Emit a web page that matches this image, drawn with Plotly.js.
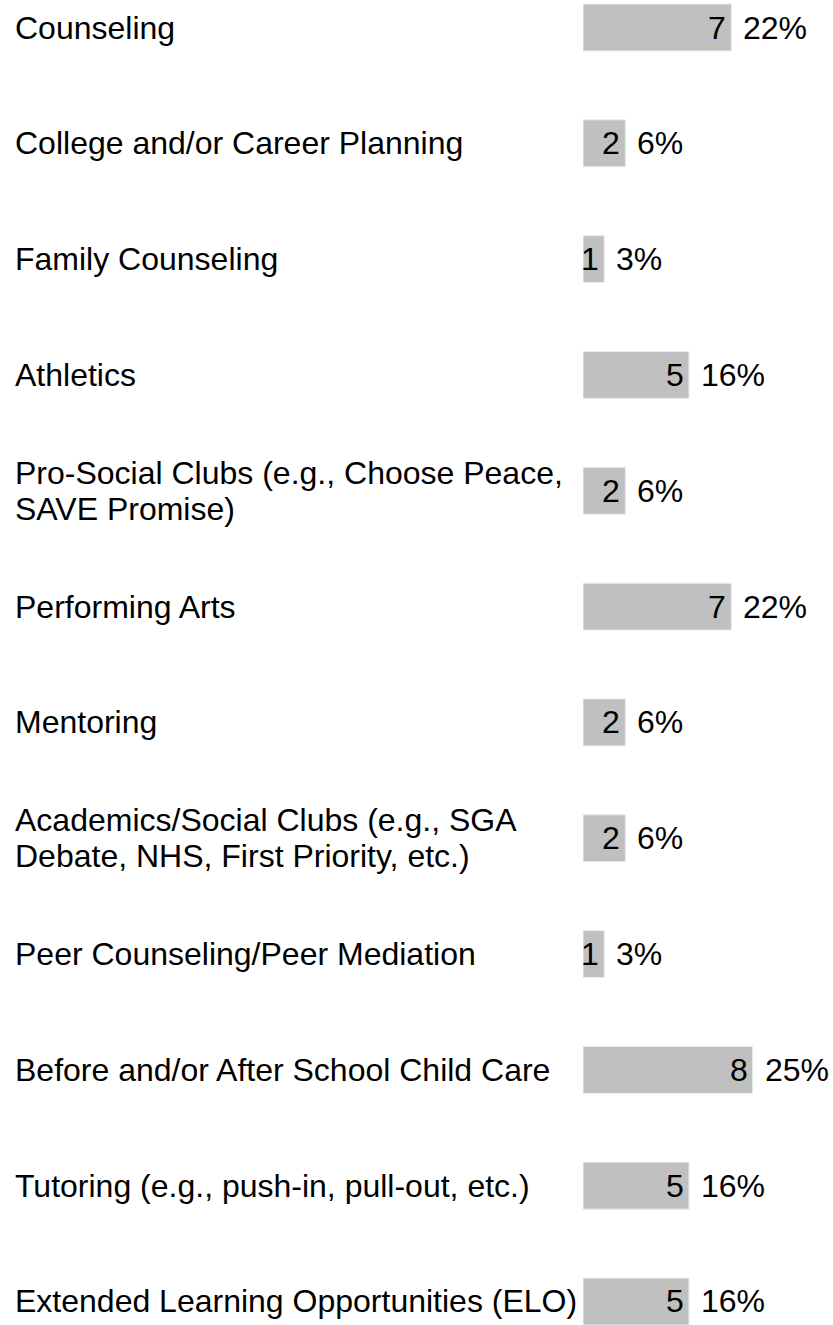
<!DOCTYPE html>
<html>
<head>
<meta charset="utf-8">
<script src="https://cdn.plot.ly/plotly-3.0.1.min.js"></script>
<style>html,body{margin:0;padding:0;background:#fff;}#chart{width:833px;height:1325px;}</style>
</head>
<body>
<div id="chart"></div>
<script>
const categories = [
  "Counseling",
  "College and/or Career Planning",
  "Family Counseling",
  "Athletics",
  "Pro-Social Clubs (e.g., Choose Peace,<br>SAVE Promise)",
  "Performing Arts",
  "Mentoring",
  "Academics/Social Clubs (e.g., SGA<br>Debate, NHS, First Priority, etc.)",
  "Peer Counseling/Peer Mediation",
  "Before and/or After School Child Care",
  "Tutoring (e.g., push-in, pull-out, etc.)",
  "Extended Learning Opportunities (ELO)"
];
const counts = [7, 2, 1, 5, 2, 7, 2, 2, 1, 8, 5, 5];
const percents = ["22%", "6%", "3%", "16%", "6%", "22%", "6%", "6%", "3%", "25%", "16%", "16%"];

const FONT = "Liberation Sans, Arial, sans-serif";
const FS = 32;

const trace = {
  type: "bar",
  orientation: "h",
  y: categories,
  x: counts,
  width: 0.405,
  marker: {color: "#c0c0c0", line: {color: "#ebebeb", width: 1}},
  textposition: "none",
  hoverinfo: "skip"
};

const annotations = [];
categories.forEach((cat, i) => {
  const lines = cat.split("<br>");
  const spacing = 36;
  lines.forEach((ln, j) => {
    const off = (j - (lines.length - 1) / 2) * spacing;
    annotations.push({
      xref: "paper", yref: "y", x: 0, y: cat,
      xanchor: "left", yanchor: "middle",
      xshift: -570, yshift: -off,
      text: ln, showarrow: false,
      font: {family: FONT, size: FS, color: "#000"}
    });
  });
  annotations.push({
    xref: "x", yref: "y", x: counts[i], y: cat,
    xanchor: "right", yanchor: "middle", xshift: -3,
    text: String(counts[i]), showarrow: false,
    font: {family: FONT, size: FS, color: "#000"}
  });
  annotations.push({
    xref: "x", yref: "y", x: counts[i], y: cat,
    xanchor: "left", yanchor: "middle", xshift: 10,
    text: percents[i], showarrow: false,
    font: {family: FONT, size: FS, color: "#000"}
  });
});

const layout = {
  width: 833, height: 1325,
  margin: {l: 583, r: 38, t: 0, b: 0, pad: 0},
  paper_bgcolor: "#fff", plot_bgcolor: "#fff",
  showlegend: false,
  xaxis: {range: [0, 10], visible: false, fixedrange: true},
  yaxis: {type: "category", range: [11.203, -0.2375], visible: false, fixedrange: true},
  annotations: annotations,
  font: {family: FONT}
};

Plotly.newPlot("chart", [trace], layout, {displayModeBar: false, staticPlot: true});
</script>
</body>
</html>
